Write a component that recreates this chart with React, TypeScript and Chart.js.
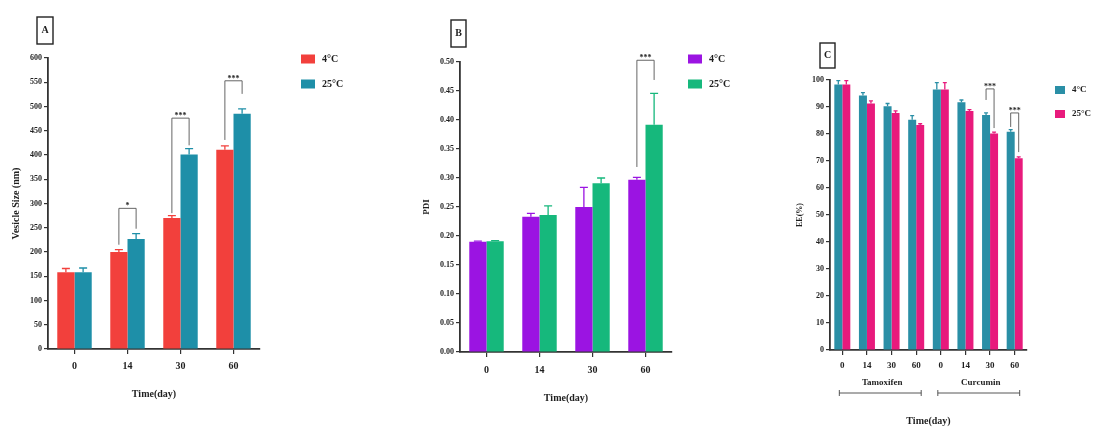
import React, { useEffect, useRef } from "react";
import { Chart, registerables } from "chart.js";

Chart.register(...registerables);

// ---------- data ----------
const days = ["0", "14", "30", "60"];
const seriesNames = ["4°C", "25°C"];

const sizeCold = [158, 200, 270, 411];
const sizeWarm = [158, 227, 401, 485];
const sizeColdErr = [8, 5, 5, 8];
const sizeWarmErr = [9, 11, 12, 10];
const sizeBrackets = [
  { cat: 1, left: 215, right: 248, top: 290, label: "*" },
  { cat: 2, left: 280, right: 420, top: 476, label: "***" },
  { cat: 3, left: 431, right: 526, top: 553, label: "***" },
];

const pdiCold = [0.19, 0.233, 0.25, 0.297];
const pdiWarm = [0.191, 0.236, 0.291, 0.392];
const pdiColdErr = [0.001, 0.006, 0.034, 0.004];
const pdiWarmErr = [0.001, 0.016, 0.009, 0.054];
const pdiBrackets = [{ cat: 3, left: 0.319, right: 0.469, top: 0.503, label: "***" }];

const eeDays = ["0", "14", "30", "60", "0", "14", "30", "60"];
const eeCold = [98.3, 94.3, 90.3, 85.3, 96.5, 91.8, 87, 80.8];
const eeWarm = [98.3, 91.3, 87.8, 83.3, 96.5, 88.5, 80.2, 71];
const eeColdErr = [1.5, 1, 1, 1.5, 2.5, 0.8, 0.8, 0.8];
const eeWarmErr = [1.5, 1, 0.8, 0.5, 2.5, 0.5, 0.5, 0.5];
const eeGroups = [
  { label: "Tamoxifen", from: 0, to: 3 },
  { label: "Curcumin", from: 4, to: 7 },
];
const eeBrackets = [
  { cat: 6, left: 92.6, right: 82.2, top: 96.7, label: "***" },
  { cat: 7, left: 82.6, right: 73.3, top: 87.8, label: "***" },
];

// ---------- style ----------
const FONT = "'Liberation Serif', 'DejaVu Serif', serif";
const AXIS = "#333333";
const TEXT = "#1e1e1e";

const decorPlugin = {
  id: "decor",
  afterDatasetsDraw(chart: any, _a: any, opts: any) {
    const ctx = chart.ctx;
    const ys = chart.scales.y;
    ctx.save();
    // error bars
    chart.data.datasets.forEach((ds: any, di: number) => {
      const meta = chart.getDatasetMeta(di);
      meta.data.forEach((el: any, i: number) => {
        const v = ds.data[i];
        const e = ds.errors[i];
        const y0 = ys.getPixelForValue(v);
        const y1 = ys.getPixelForValue(v + e);
        ctx.strokeStyle = ds.backgroundColor;
        ctx.lineWidth = 1.3;
        ctx.beginPath();
        ctx.moveTo(el.x, y0);
        ctx.lineTo(el.x, y1);
        ctx.moveTo(el.x - opts.cap, y1);
        ctx.lineTo(el.x + opts.cap, y1);
        ctx.stroke();
      });
    });
    // significance brackets
    const m0 = chart.getDatasetMeta(0);
    const m1 = chart.getDatasetMeta(1);
    (opts.brackets || []).forEach((b: any) => {
      const xl = m0.data[b.cat].x;
      const xr = m1.data[b.cat].x;
      const yt = ys.getPixelForValue(b.top);
      ctx.strokeStyle = "#555";
      ctx.lineWidth = 0.9;
      ctx.beginPath();
      ctx.moveTo(xl, ys.getPixelForValue(b.left));
      ctx.lineTo(xl, yt);
      ctx.lineTo(xr, yt);
      ctx.lineTo(xr, ys.getPixelForValue(b.right));
      ctx.stroke();
      ctx.fillStyle = TEXT;
      ctx.font = `bold ${opts.starSize}px ${FONT}`;
      ctx.textAlign = "center";
      ctx.textBaseline = "bottom";
      ctx.fillText(b.label, (xl + xr) / 2, yt + 2);
    });
    ctx.restore();
  },
  afterDraw(chart: any, _a: any, opts: any) {
    const ctx = chart.ctx;
    ctx.save();
    // panel letter box
    const bx = opts.box;
    ctx.strokeStyle = "#222";
    ctx.lineWidth = 1.4;
    ctx.strokeRect(bx.x, bx.y, bx.w, bx.h);
    ctx.fillStyle = TEXT;
    ctx.font = `bold 10px ${FONT}`;
    ctx.textAlign = "center";
    ctx.textBaseline = "middle";
    ctx.fillText(opts.letter, bx.x + bx.w / 2, bx.y + bx.h / 2);
    // legend
    const lg = opts.legend;
    chart.data.datasets.forEach((ds: any, di: number) => {
      const y = lg.y + di * lg.gap;
      ctx.fillStyle = ds.backgroundColor;
      ctx.fillRect(lg.x, y - lg.h / 2, lg.w, lg.h);
      ctx.fillStyle = TEXT;
      ctx.font = `bold ${lg.font}px ${FONT}`;
      ctx.textAlign = "left";
      ctx.textBaseline = "middle";
      ctx.fillText(ds.label, lg.x + lg.w + 7, y);
    });
    // group labels under the x axis
    if (opts.groups) {
      const xs = chart.scales.x;
      opts.groups.forEach((g: any) => {
        const a = xs.getPixelForValue(g.from);
        const b = xs.getPixelForValue(g.to);
        ctx.fillStyle = TEXT;
        ctx.font = `bold 9px ${FONT}`;
        ctx.textAlign = "center";
        ctx.textBaseline = "middle";
        ctx.fillText(g.label, (a + b) / 2 + 3, opts.groupY);
        const l = a - 3;
        const r = b + 5;
        const ly = opts.groupY + 10;
        ctx.strokeStyle = "#444";
        ctx.lineWidth = 0.9;
        ctx.beginPath();
        ctx.moveTo(l, ly);
        ctx.lineTo(r, ly);
        ctx.moveTo(l, ly - 3);
        ctx.lineTo(l, ly + 3);
        ctx.moveTo(r, ly - 3);
        ctx.lineTo(r, ly + 3);
        ctx.stroke();
      });
    }
    ctx.restore();
  },
};

type PanelCfg = {
  labels: string[];
  cold: number[];
  warm: number[];
  coldErr: number[];
  warmErr: number[];
  colors: [string, string];
  yMax: number;
  yStep: number;
  yFmt: (v: number) => string;
  yTitle: string;
  yTitleSize: number;
  yTitlePad: number;
  yWidth: number;
  xHeight: number;
  xTitlePadBottom: number;
  xTickPad: number;
  xTickSize: number;
  padding: { left: number; right: number; top: number; bottom: number };
  plugin: any;
};

function buildConfig(p: PanelCfg): any {
  return {
    type: "bar",
    data: {
      labels: p.labels,
      datasets: [
        { label: seriesNames[0], data: p.cold, errors: p.coldErr, backgroundColor: p.colors[0] },
        { label: seriesNames[1], data: p.warm, errors: p.warmErr, backgroundColor: p.colors[1] },
      ],
    },
    options: {
      responsive: false,
      animation: false,
      layout: { padding: p.padding },
      datasets: { bar: { categoryPercentage: 0.65, barPercentage: 1 } },
      plugins: {
        legend: { display: false },
        tooltip: { enabled: false },
        decor: p.plugin,
      },
      scales: {
        x: {
          afterFit: (s: any) => {
            s.height = p.xHeight;
          },
          grid: {
            display: true,
            drawOnChartArea: false,
            drawTicks: true,
            tickLength: 5,
            offset: false,
            color: AXIS,
            lineWidth: 1.2,
          },
          border: { display: true, color: AXIS, width: 1.8 },
          ticks: {
            autoSkip: false,
            maxRotation: 0,
            padding: p.xTickPad,
            color: TEXT,
            font: { family: FONT, size: p.xTickSize, weight: "bold" },
          },
          title: {
            display: true,
            text: "Time(day)",
            color: TEXT,
            font: { family: FONT, size: 10, weight: "bold" },
            padding: { top: 0, bottom: p.xTitlePadBottom },
          },
        },
        y: {
          min: 0,
          max: p.yMax,
          afterFit: (s: any) => {
            s.width = p.yWidth;
          },
          grid: {
            display: true,
            drawOnChartArea: false,
            drawTicks: true,
            tickLength: 4,
            color: AXIS,
            lineWidth: 1.2,
          },
          border: { display: true, color: AXIS, width: 1.8 },
          ticks: {
            stepSize: p.yStep,
            padding: 2,
            color: TEXT,
            font: { family: FONT, size: 8, weight: "bold" },
            callback: (v: any) => p.yFmt(Number(v)),
          },
          title: {
            display: true,
            text: p.yTitle,
            color: TEXT,
            font: { family: FONT, size: p.yTitleSize, weight: "bold" },
            padding: { top: p.yTitlePad, bottom: 0 },
          },
        },
      },
    },
    plugins: [decorPlugin],
  };
}

function Panel({ cfg, left, width }: { cfg: PanelCfg; left: number; width: number }) {
  const ref = useRef<HTMLCanvasElement | null>(null);
  useEffect(() => {
    if (!ref.current) return;
    const chart = new Chart(ref.current, buildConfig(cfg));
    return () => chart.destroy();
  }, []);
  return (
    <canvas
      ref={ref}
      width={width}
      height={427}
      style={{ position: "absolute", left, top: 0, width, height: 427 }}
    />
  );
}

const panelA: PanelCfg = {
  labels: days,
  cold: sizeCold,
  warm: sizeWarm,
  coldErr: sizeColdErr,
  warmErr: sizeWarmErr,
  colors: ["#f2403c", "#1e8fa8"],
  yMax: 600,
  yStep: 50,
  yFmt: (v) => String(v),
  yTitle: "Vesicle Size (nm)",
  yTitleSize: 10,
  yTitlePad: 10,
  yWidth: 48,
  xHeight: 78,
  xTitlePadBottom: 27,
  xTickPad: 6,
  xTickSize: 10,
  padding: { left: 0, right: 110, top: 58, bottom: 0 },
  plugin: {
    cap: 4,
    starSize: 8,
    brackets: sizeBrackets,
    letter: "A",
    box: { x: 37, y: 17, w: 16, h: 27 },
    legend: { x: 301, y: 59, gap: 25, w: 14, h: 9, font: 10 },
  },
};

const panelB: PanelCfg = {
  labels: days,
  cold: pdiCold,
  warm: pdiWarm,
  coldErr: pdiColdErr,
  warmErr: pdiWarmErr,
  colors: ["#9b14e2", "#16b87c"],
  yMax: 0.5,
  yStep: 0.05,
  yFmt: (v) => v.toFixed(2),
  yTitle: "PDI",
  yTitleSize: 9,
  yTitlePad: 51,
  yWidth: 90,
  xHeight: 75,
  xTitlePadBottom: 23,
  xTickPad: 7,
  xTickSize: 10,
  padding: { left: 0, right: 68, top: 62, bottom: 0 },
  plugin: {
    cap: 4,
    starSize: 8,
    brackets: pdiBrackets,
    letter: "B",
    box: { x: 81, y: 20, w: 15, h: 27 },
    legend: { x: 318, y: 59, gap: 25, w: 14, h: 9, font: 10 },
  },
};

const panelC: PanelCfg = {
  labels: eeDays,
  cold: eeCold,
  warm: eeWarm,
  coldErr: eeColdErr,
  warmErr: eeWarmErr,
  colors: ["#2a8fa6", "#e81a7c"],
  yMax: 100,
  yStep: 10,
  yFmt: (v) => String(v),
  yTitle: "EE(%)",
  yTitleSize: 8,
  yTitlePad: 55,
  yWidth: 90,
  xHeight: 77,
  xTitlePadBottom: 0,
  xTickPad: 5,
  xTickSize: 9,
  padding: { left: 0, right: 69, top: 80, bottom: 0 },
  plugin: {
    cap: 2,
    starSize: 8,
    brackets: eeBrackets,
    letter: "C",
    box: { x: 80, y: 43, w: 15, h: 25 },
    legend: { x: 315, y: 90, gap: 24, w: 10, h: 8, font: 9 },
    groups: eeGroups,
    groupY: 383,
  },
};

export default function App() {
  return (
    <div
      style={{
        position: "absolute",
        left: 0,
        top: 0,
        width: 1096,
        height: 427,
        background: "#ffffff",
        overflow: "hidden",
      }}
    >
      <Panel cfg={panelA} left={0} width={370} />
      <Panel cfg={panelB} left={370} width={370} />
      <Panel cfg={panelC} left={740} width={356} />
    </div>
  );
}
